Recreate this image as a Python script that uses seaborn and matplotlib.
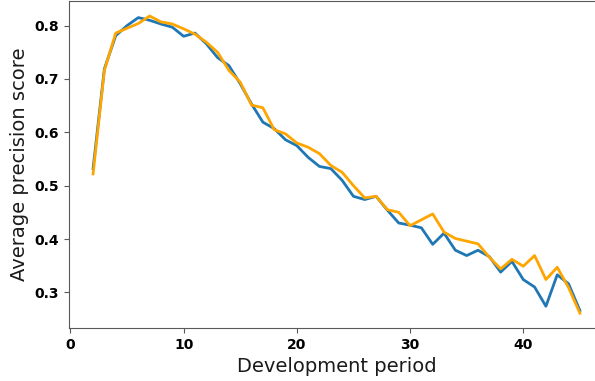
import numpy as np
import pandas as pd
import seaborn as sns
import matplotlib.pyplot as plt

# --- Data ---
periods = list(range(2, 46))
blue_scores = [0.532, 0.719, 0.781, 0.800, 0.815, 0.810, 0.803, 0.797, 0.780, 0.786,
               0.766, 0.740, 0.725, 0.691, 0.653, 0.619, 0.607, 0.586, 0.575, 0.553,
               0.536, 0.532, 0.510, 0.480, 0.474, 0.480, 0.454, 0.430, 0.426, 0.421,
               0.390, 0.411, 0.379, 0.369, 0.379, 0.367, 0.338, 0.358, 0.324, 0.310,
               0.274, 0.333, 0.316, 0.266]
orange_scores = [0.522, 0.716, 0.786, 0.795, 0.804, 0.818, 0.807, 0.803, 0.794, 0.784,
                 0.769, 0.750, 0.716, 0.694, 0.651, 0.646, 0.605, 0.597, 0.580, 0.572,
                 0.560, 0.538, 0.525, 0.500, 0.477, 0.480, 0.455, 0.450, 0.425, 0.436,
                 0.447, 0.413, 0.401, 0.396, 0.391, 0.366, 0.344, 0.362, 0.349, 0.369,
                 0.324, 0.347, 0.309, 0.261]

# --- Plot ---
fig = plt.figure(figsize=(5.95, 3.81), dpi=100)
ax = fig.add_axes([0.1155, 0.139, 0.9, 0.858])

sns.lineplot(x=periods, y=blue_scores, color="#1f77b4", linewidth=2, ax=ax)
sns.lineplot(x=periods, y=orange_scores, color="orange", linewidth=2, ax=ax)

# the reference is cropped on the right, so no right spine shows
ax.spines["right"].set_visible(False)
for side in ["left", "bottom", "top"]:
    ax.spines[side].set_color("0.35")
ax.tick_params(colors="0.35", labelcolor="black")

ax.set_xticks([0, 10, 20, 30, 40])
ax.set_yticks([0.3, 0.4, 0.5, 0.6, 0.7, 0.8])
for lbl in ax.get_xticklabels() + ax.get_yticklabels():
    lbl.set_fontweight("bold")
    lbl.set_fontsize(10)
ax.set_xlabel("Development period", fontsize=14, color="0.1")
ax.set_ylabel("Average precision score", fontsize=14, color="0.1")

fig.savefig("out.png", dpi=100)
